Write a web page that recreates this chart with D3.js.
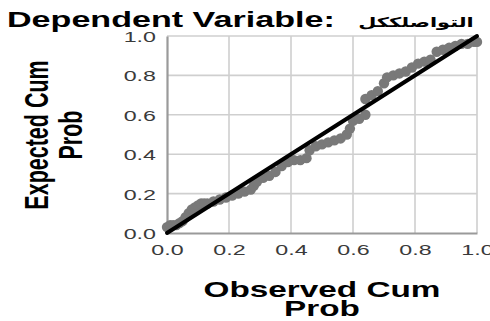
<!DOCTYPE html>
<html><head><meta charset="utf-8">
<script src="https://cdn.jsdelivr.net/npm/d3@7"></script>
<style>body{margin:0;background:#fff}svg{display:block}</style>
</head><body>
<script>
const titleText = "Dependent Variable: ";
const titleArabic = "التواصلككل";
const xTitle = ["Observed Cum", "Prob"];
const yTitle = ["Expected Cum", "Prob"];
const tickValues = [0, 0.2, 0.4, 0.6, 0.8, 1.0];
const observed = [0.00,0.01,0.02,0.03,0.04,0.05,0.06,0.07,0.08,0.09,0.10,0.11,0.12,0.13,0.15,0.17,0.19,0.21,0.23,0.25,0.27,0.28,0.29,0.31,0.33,0.35,0.37,0.39,0.41,0.43,0.45,0.46,0.48,0.50,0.52,0.54,0.56,0.58,0.59,0.60,0.62,0.64,0.64,0.66,0.68,0.70,0.71,0.73,0.75,0.77,0.79,0.81,0.83,0.85,0.87,0.89,0.91,0.93,0.95,0.97,0.99,1.00];
const expected = [0.03,0.04,0.04,0.04,0.05,0.06,0.08,0.10,0.12,0.13,0.14,0.15,0.15,0.15,0.16,0.17,0.18,0.19,0.20,0.21,0.22,0.24,0.26,0.28,0.29,0.31,0.34,0.36,0.37,0.37,0.38,0.42,0.44,0.45,0.46,0.47,0.48,0.50,0.53,0.57,0.58,0.60,0.68,0.70,0.72,0.76,0.79,0.80,0.81,0.82,0.84,0.86,0.87,0.88,0.92,0.93,0.94,0.95,0.96,0.96,0.97,0.97];

const W = 490, H = 321, SX = 1.55;
const font = "'Liberation Sans', Arial, sans-serif";
const svg = d3.select("body").append("svg").attr("width", W).attr("height", H);
const x = d3.scaleLinear().domain([0, 1]).range([167, 477]);
const y = d3.scaleLinear().domain([0, 1]).range([233, 36]);

// grid
const g = svg.append("g");
g.selectAll(".vg").data(tickValues.slice(1)).join("line")
  .attr("x1", d => x(d)).attr("x2", d => x(d)).attr("y1", y(0)).attr("y2", y(1))
  .attr("stroke", "#cfcfcf").attr("stroke-width", 1.6);
g.selectAll(".hg").data(tickValues.slice(1)).join("line")
  .attr("x1", x(0)).attr("x2", x(1)).attr("y1", d => y(d)).attr("y2", d => y(d))
  .attr("stroke", "#cfcfcf").attr("stroke-width", 1.6);

// axes
const ax = svg.append("g").attr("transform", `translate(0,${y(0)})`)
  .call(d3.axisBottom(x).tickValues(tickValues).tickFormat(d3.format(".1f")).tickSize(0).tickPadding(0));
const ay = svg.append("g").attr("transform", `translate(${x(0)},0)`)
  .call(d3.axisLeft(y).tickValues(tickValues).tickFormat(d3.format(".1f")).tickSize(0).tickPadding(0));
[ax, ay].forEach(a => {
  a.select(".domain").attr("stroke", "#9a9a9a").attr("stroke-width", 2.2);
  a.selectAll("text").attr("font-family", font).attr("font-size", 15).attr("fill", "#3a3a3a");
});
ax.selectAll(".tick text").attr("y", null).attr("dy", null)
  .attr("transform", `translate(0,22) scale(${SX},1)`).attr("text-anchor", "middle");
ay.selectAll(".tick text").attr("x", null).attr("dy", null)
  .attr("transform", `translate(-11,5.5) scale(${SX},1)`).attr("text-anchor", "end");

// points
svg.append("g").selectAll("circle").data(observed.map((o, i) => [o, expected[i]])).join("circle")
  .attr("cx", d => x(d[0])).attr("cy", d => y(d[1])).attr("r", 5.2).attr("fill", "#797979");

// diagonal
svg.append("line").attr("x1", x(0)).attr("y1", y(0)).attr("x2", x(1)).attr("y2", y(1))
  .attr("stroke", "#000").attr("stroke-width", 4).attr("stroke-linecap", "round");

// title
const t = svg.append("text").attr("transform", `translate(7,27) scale(${SX},1)`)
  .attr("font-family", font).attr("font-weight", "bold").attr("font-size", 22).attr("fill", "#000");
t.append("tspan").text(titleText);
t.append("tspan").attr("dx", 9).attr("font-family", "'DejaVu Sans', sans-serif").attr("font-weight", "bold").attr("font-size", 13.5).text(titleArabic);

// x title
svg.append("g").selectAll("text").data(xTitle).join("text")
  .attr("transform", (d, i) => `translate(322,${297 + i * 19}) scale(${SX},1)`)
  .attr("text-anchor", "middle").attr("font-family", font).attr("font-weight", "bold")
  .attr("font-size", 21.5).attr("fill", "#000").text(d => d);

// y title
svg.append("g").selectAll("text").data(yTitle).join("text")
  .attr("transform", (d, i) => `translate(${48 + i * 34},135) scale(${SX},1) rotate(-90)`)
  .attr("text-anchor", "middle").attr("font-family", font).attr("font-weight", "bold")
  .attr("font-size", 21.5).attr("fill", "#000").text(d => d);
</script>
</body></html>
